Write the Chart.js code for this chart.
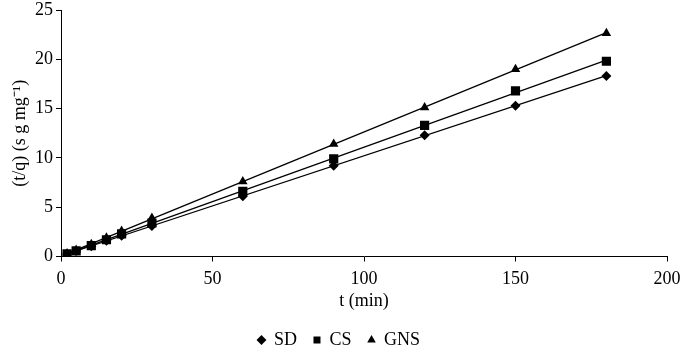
<!DOCTYPE html>
<html>
<head>
<meta charset="utf-8">
<script src="https://cdn.jsdelivr.net/npm/chart.js@4"></script>
<style>
  html, body { margin: 0; padding: 0; background: #fff; }
  #wrap { width: 685px; height: 355px; }
</style>
</head>
<body>
<div id="wrap"><canvas id="chart" width="685" height="355"></canvas></div>
<script>
const times = [2, 5, 10, 15, 20, 30, 60, 90, 120, 150, 180];
const sdValues = [0.25, 0.55, 1.05, 1.6, 2.1, 3.1, 6.1, 9.2, 12.3, 15.3, 18.3];
const csValues = [0.27, 0.58, 1.1, 1.7, 2.3, 3.4, 6.6, 9.9, 13.3, 16.8, 19.8];
const gnsValues = [0.3, 0.65, 1.25, 1.9, 2.6, 3.9, 7.6, 11.4, 15.1, 19.0, 22.65];
const seriesNames = ['SD', 'CS', 'GNS'];
const markerStyles = ['rectRot', 'rect', 'triangle'];
const markerSizes = [5, 6.5, 5.5];

const FONT = "'Liberation Serif', 'Times New Roman', serif";
const FS = 18;

function toPoints(ys) {
  return times.map((t, i) => ({ x: t, y: ys[i] }));
}

// least squares trendline, drawn over the data range
function trendLine(ys) {
  const n = times.length;
  const mx = times.reduce((a, b) => a + b, 0) / n;
  const my = ys.reduce((a, b) => a + b, 0) / n;
  let sxy = 0, sxx = 0;
  times.forEach((t, i) => {
    sxy += (t - mx) * (ys[i] - my);
    sxx += (t - mx) * (t - mx);
  });
  const slope = sxy / sxx;
  const icept = my - slope * mx;
  const x0 = times[0], x1 = times[n - 1];
  return [{ x: x0, y: icept + slope * x0 }, { x: x1, y: icept + slope * x1 }];
}

const allValues = [sdValues, csValues, gnsValues];
const datasets = [];
allValues.forEach((ys, i) => {
  datasets.push({
    label: seriesNames[i],
    data: toPoints(ys),
    showLine: false,
    pointStyle: markerStyles[i],
    pointRadius: markerSizes[i],
    backgroundColor: '#000',
    borderColor: '#000',
    borderWidth: 0,
    order: 1
  });
});
allValues.forEach((ys, i) => {
  datasets.push({
    label: 'trend' + i,
    data: trendLine(ys),
    showLine: true,
    pointRadius: 0,
    borderColor: '#000',
    borderWidth: 1.3,
    order: 2
  });
});

new Chart(document.getElementById('chart'), {
  type: 'scatter',
  data: { datasets: datasets },
  options: {
    responsive: false,
    animation: false,
    layout: { padding: { left: 11, right: 18, top: 10, bottom: -4 } },
    plugins: {
      tooltip: { enabled: false },
      legend: {
        position: 'bottom',
        labels: {
          // keep only the marker series; pad the gap between entries
          generateLabels: chart => {
            const items = Chart.defaults.plugins.legend.labels.generateLabels(chart)
              .filter(item => !item.text.startsWith('trend'));
            items.forEach((item, i) => {
              if (i < items.length - 1) item.text += '   ';
            });
            return items;
          },
          usePointStyle: true,
          boxWidth: 7,
          boxHeight: 7,
          padding: 3,
          color: '#000',
          font: { family: FONT, size: FS, lineHeight: 1 }
        }
      }
    },
    scales: {
      x: {
        type: 'linear',
        min: 0,
        max: 200,
        afterFit: scale => {
          scale.height -= 6;
          scale.paddingLeft = 0;
          scale.paddingRight = 0;
        },
        ticks: { stepSize: 50, color: '#000', font: { family: FONT, size: FS, lineHeight: 0.36 }, padding: 15 },
        grid: { drawOnChartArea: false, drawTicks: true, tickLength: 5, color: '#000' },
        border: { color: '#000', width: 1 },
        title: { display: true, text: 't (min)', color: '#000', font: { family: FONT, size: FS, lineHeight: 1 }, padding: { top: 0, bottom: 18 } }
      },
      y: {
        min: 0,
        max: 25,
        afterFit: scale => {
          scale.width = 50;
          scale.paddingTop = 0;
          scale.paddingBottom = 0;
        },
        ticks: { stepSize: 5, color: '#000', font: { family: FONT, size: FS, lineHeight: 0.8 }, padding: 3 },
        grid: { drawOnChartArea: false, drawTicks: true, tickLength: 5, color: '#000' },
        border: { color: '#000', width: 1 },
        title: { display: true, text: '(t/q) (s g mg\u207B\u00B9)', color: '#000', font: { family: FONT, size: FS, lineHeight: 1 }, padding: { top: 0, bottom: 4 } }
      }
    }
  }
});
</script>
</body>
</html>
